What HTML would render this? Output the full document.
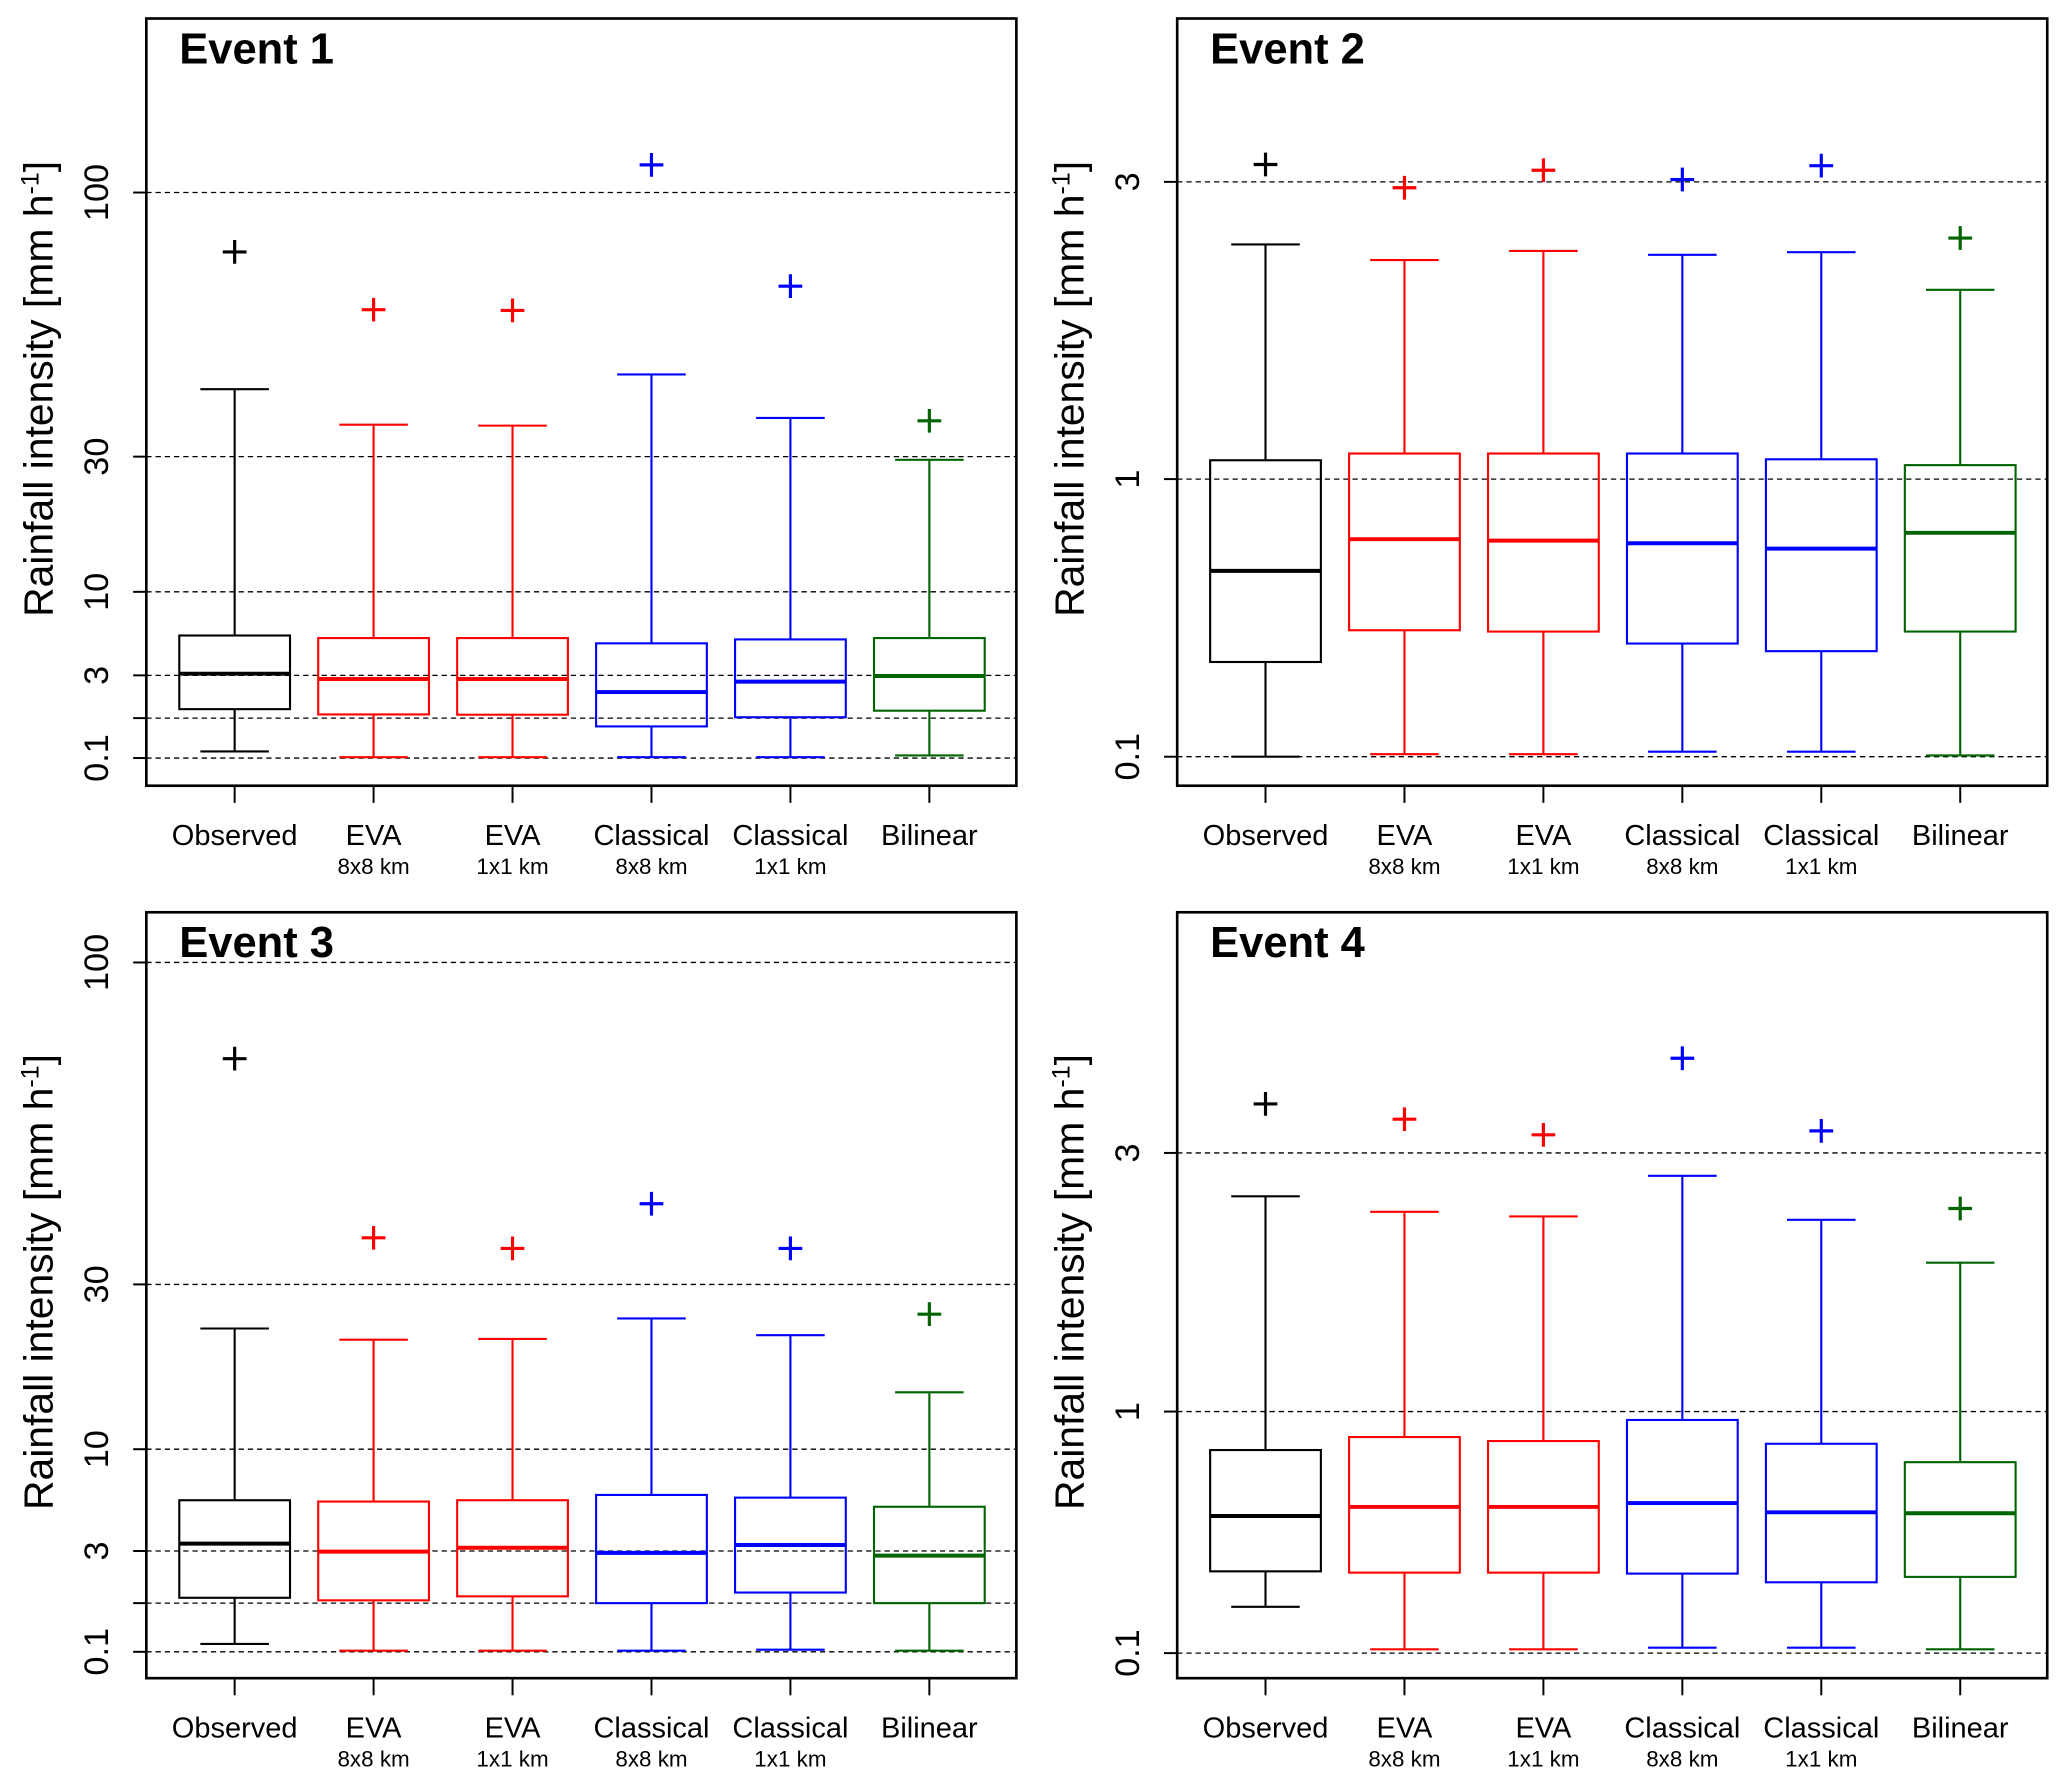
<!DOCTYPE html>
<html><head><meta charset="utf-8"><style>
html,body{margin:0;padding:0;background:#fff}
svg{display:block}
text{font-family:"Liberation Sans",sans-serif}
</style></head><body>
<svg id="chart" width="2067" height="1785" viewBox="0 0 1568 1354" xmlns="http://www.w3.org/2000/svg"></svg>
<script>
const categories = ["Observed","EVA","EVA","Classical","Classical","Bilinear"];
const subLabels = ["","8x8 km","1x1 km","8x8 km","1x1 km",""];
const seriesColors = ["#000000","#ff0000","#ff0000","#0000ff","#0000ff","#006400"];
// each box: [whiskerLow, q1, median, q3, whiskerHigh, outlier]
const event1 = [[0.184,1.33,3.10,5.83,44.0,80.7],[0.11,1.13,2.79,5.62,36.3,63.9],[0.11,1.12,2.79,5.62,36.1,63.7],[0.11,0.736,2.09,5.2,47.4,109.7],[0.11,1.03,2.64,5.51,37.7,70.5],[0.13,1.27,2.96,5.62,29.4,37.1]];
const event2 = [[0.1,0.302,0.599,1.095,2.49,3.15],[0.104,0.394,0.726,1.13,2.37,2.95],[0.104,0.39,0.72,1.13,2.44,3.10],[0.108,0.354,0.709,1.13,2.41,3.02],[0.108,0.332,0.687,1.10,2.43,3.14],[0.102,0.39,0.753,1.07,2.15,2.54]];
const event3 = [[0.182,1.156,3.37,5.98,23.6,74.8],[0.11,1.08,2.97,5.89,22.1,37.6],[0.11,1.2,3.16,5.98,22.2,35.8],[0.11,1.0,2.91,6.35,25.0,43.7],[0.12,1.32,3.30,6.16,22.7,35.8],[0.11,1.0,2.78,5.54,15.7,25.6]];
const event4 = [[0.2,0.3,0.496,0.794,2.59,3.5],[0.107,0.296,0.533,0.861,2.45,3.34],[0.107,0.296,0.533,0.84,2.41,3.18],[0.11,0.293,0.549,0.953,2.78,4.0],[0.11,0.267,0.511,0.826,2.38,3.22],[0.107,0.283,0.507,0.734,2.02,2.48]];
const ticksWide = [0.1,1,3,10,30,100];
const tickLabelsWide = ["0.1","","3","10","30","100"];
const ticksNarrow = [0.1,1,3];
const tickLabelsNarrow = ["0.1","1","3"];

const NS="http://www.w3.org/2000/svg";
const svg=document.getElementById('chart');
function mk(tag,attrs,parent){const e=document.createElementNS(NS,tag);for(const k in attrs)e.setAttribute(k,attrs[k]);(parent||svg).appendChild(e);return e;}

const panels=[
 {title:"Event 1",data:event1,ticks:ticksWide,labels:tickLabelsWide,x0:111,x1:771,top:14,bot:596,ref:575,k:44.3,cx0:178},
 {title:"Event 2",data:event2,ticks:ticksNarrow,labels:tickLabelsNarrow,x0:893,x1:1553,top:14,bot:596,ref:574,k:308,cx0:960},
 {title:"Event 3",data:event3,ticks:ticksWide,labels:tickLabelsWide,x0:111,x1:771,top:692,bot:1273,ref:1253,k:54,cx0:178},
 {title:"Event 4",data:event4,ticks:ticksNarrow,labels:tickLabelsNarrow,x0:893,x1:1553,top:692,bot:1273,ref:1254,k:268,cx0:960}
];
const step=105.4;

panels.forEach((p,pi)=>{
  const g=mk('g',{});
  
  
  const y=v=>p.ref-p.k*(Math.sqrt(v)-Math.sqrt(0.1));
  const x=i=>p.cx0+i*step;
  p.ticks.forEach((t,ti)=>{
    const gl=mk('line',{x1:p.x0,x2:p.x1,y1:y(t),y2:y(t),stroke:'#000','stroke-width':1,'stroke-dasharray':'4,3'},g);
    
    
    const tk=mk('line',{x1:p.x0-10,x2:p.x0,y1:y(t),y2:y(t),stroke:'#000','stroke-width':1.5},g);
    
    
    if(p.labels[ti]){
      const tl=mk('text',{x:0,y:0,transform:`translate(${p.x0-36},${y(t)}) rotate(-90)`,'text-anchor':'middle','dominant-baseline':'middle','font-size':26},g);
      tl.textContent=p.labels[ti];
      
      
    }
  });
  p.data.forEach((d,i)=>{
    const c=seriesColors[i],cx=x(i);
    const bg=mk('g',{stroke:c,fill:'none','stroke-width':1.6},g);
    
    
    mk('line',{x1:cx,x2:cx,y1:y(d[0]),y2:y(d[1])},bg);
    mk('line',{x1:cx,x2:cx,y1:y(d[3]),y2:y(d[4])},bg);
    mk('line',{x1:cx-26,x2:cx+26,y1:y(d[0]),y2:y(d[0])},bg);
    mk('line',{x1:cx-26,x2:cx+26,y1:y(d[4]),y2:y(d[4])},bg);
    mk('rect',{x:cx-42,y:y(d[3]),width:84,height:y(d[1])-y(d[3])},bg);
    mk('line',{x1:cx-42,x2:cx+42,y1:y(d[2]),y2:y(d[2]),'stroke-width':3},bg);
    const oy=y(d[5]);
    mk('path',{d:`M${cx-9} ${oy}H${cx+9}M${cx} ${oy-9}V${oy+9}`,'stroke-width':2.4},bg);
    mk('line',{x1:cx,x2:cx,y1:p.bot,y2:p.bot+13,stroke:'#000','stroke-width':1.5},g);
    const cl=mk('text',{x:cx,y:p.bot+45,'text-anchor':'middle','font-size':22},g);
    cl.textContent=categories[i];
    
    
    if(subLabels[i]){
      const sl=mk('text',{x:cx,y:p.bot+67,'text-anchor':'middle','font-size':17},g);
      sl.textContent=subLabels[i];
      
      
    }
  });
  const fr=mk('rect',{x:p.x0,y:p.top,width:p.x1-p.x0,height:p.bot-p.top,fill:'none',stroke:'#000','stroke-width':2},g);
  
  
  const tt=mk('text',{x:p.x0+25,y:p.top+34,'font-size':33,'font-weight':'bold'},g);
  tt.textContent=p.title;
  
  
  const yt=mk('text',{x:0,y:0,transform:`translate(${p.x0-71},${(p.top+p.bot)/2-10}) rotate(-90)`,'text-anchor':'middle','font-size':31},g);
  yt.innerHTML='Rainfall intensity [mm h<tspan baseline-shift="super" font-size="19">-1</tspan>]';
  
  
});
</script>
</body></html>
